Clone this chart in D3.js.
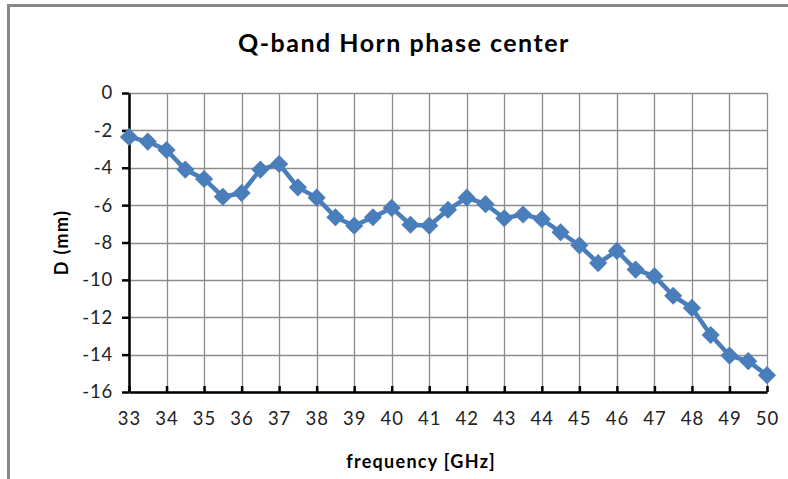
<!DOCTYPE html>
<html><head><meta charset="utf-8">
<script src="https://cdn.jsdelivr.net/npm/d3@7"></script>
<style>body{margin:0;background:#fff}svg{display:block}</style>
</head><body><svg id="c" width="788" height="479"></svg>
<script>
const frequency = [33,33.5,34,34.5,35,35.5,36,36.5,37,37.5,38,38.5,39,39.5,40,40.5,41,41.5,42,42.5,43,43.5,44,44.5,45,45.5,46,46.5,47,47.5,48,48.5,49,49.5,50];
const distance = [-2.35,-2.6,-3.05,-4.1,-4.6,-5.55,-5.35,-4.1,-3.8,-5.05,-5.6,-6.65,-7.1,-6.65,-6.15,-7.05,-7.1,-6.25,-5.6,-5.95,-6.7,-6.5,-6.75,-7.45,-8.15,-9.1,-8.45,-9.45,-9.8,-10.85,-11.5,-12.95,-14.05,-14.35,-15.1];
const xTicks = [33,34,35,36,37,38,39,40,41,42,43,44,45,46,47,48,49,50];
const yTicks = [0,-2,-4,-6,-8,-10,-12,-14,-16];
const titleText = "Q-band Horn phase center";
const xTitle = "frequency [GHz]";
const yTitle = "D (mm)";

const svg = d3.select("#c");
const font = "Lato, 'Open Sans', sans-serif";
const L=129, R=767, T=93, B=392;
const x = d3.scaleLinear().domain([33,50]).range([L,R]);
const y = d3.scaleLinear().domain([-16,0]).range([B,T]);

// chart border
svg.append("path").attr("d","M8.5,479 V5.5 H788").attr("fill","none").attr("stroke","#888").attr("stroke-width",3);

// grid
const g = svg.append("g");
g.selectAll("line.h").data(yTicks).enter().append("line")
  .attr("x1",L).attr("x2",R).attr("y1",d=>Math.round(y(d))+0.5).attr("y2",d=>Math.round(y(d))+0.5)
  .attr("stroke","#8c8c8c").attr("stroke-width",1.3);
g.selectAll("line.v").data(xTicks).enter().append("line")
  .attr("y1",T).attr("y2",B).attr("x1",d=>Math.round(x(d))+0.5).attr("x2",d=>Math.round(x(d))+0.5)
  .attr("stroke","#8c8c8c").attr("stroke-width",1.3);

// axes
const xAxis = d3.axisBottom(x).tickValues(xTicks).tickSizeInner(-6).tickSizeOuter(0).tickPadding(20);
const xa = svg.append("g").attr("transform",`translate(0,${B})`).call(xAxis);
xa.select(".domain").attr("stroke","#000").attr("stroke-width",2.5);
xa.selectAll(".tick line").attr("stroke","#000").attr("stroke-width",2.5);
xa.selectAll("text").attr("font-family",font).attr("font-size",18.5).attr("letter-spacing",1).attr("fill","#222");

const yAxis = d3.axisLeft(y).tickValues(yTicks).tickSizeInner(7).tickSizeOuter(0).tickPadding(9).tickFormat(d=>String(d));
const ya = svg.append("g").attr("transform",`translate(${L},0)`).call(yAxis);
ya.select(".domain").attr("stroke","#000").attr("stroke-width",2.5);
ya.selectAll(".tick line").attr("stroke","#000").attr("stroke-width",2.5);
ya.selectAll("text").attr("font-family",font).attr("font-size",18.5).attr("letter-spacing",0.8).attr("fill","#222");

// series
const pts = frequency.map((f,i)=>[f,distance[i]]);
svg.append("path").datum(pts)
  .attr("d",d3.line().x(d=>x(d[0])).y(d=>y(d[1])))
  .attr("fill","none").attr("stroke","#4a7ebb").attr("stroke-width",4.5).attr("stroke-linejoin","round");
svg.selectAll("path.m").data(pts).enter().append("path")
  .attr("d",d3.symbol().type(d3.symbolDiamond2).size(210))
  .attr("transform",d=>`translate(${x(d[0])},${y(d[1])})`)
  .attr("fill","#4a7ebb");

// titles
svg.append("text").attr("x",404).attr("y",52).attr("text-anchor","middle")
  .attr("font-family",font).attr("font-weight","bold").attr("font-size",25).attr("letter-spacing",1.5).attr("fill","#000").text(titleText);
svg.append("text").attr("x",421).attr("y",468).attr("text-anchor","middle")
  .attr("font-family",font).attr("font-weight","bold").attr("font-size",18).attr("letter-spacing",1.3).attr("fill","#000").text(xTitle);
svg.append("text").attr("transform",`translate(68,${(T+B)/2}) rotate(-90)`).attr("text-anchor","middle")
  .attr("font-family",font).attr("font-weight","bold").attr("font-size",18).attr("letter-spacing",1.3).attr("fill","#000").text(yTitle);
</script></body></html>
